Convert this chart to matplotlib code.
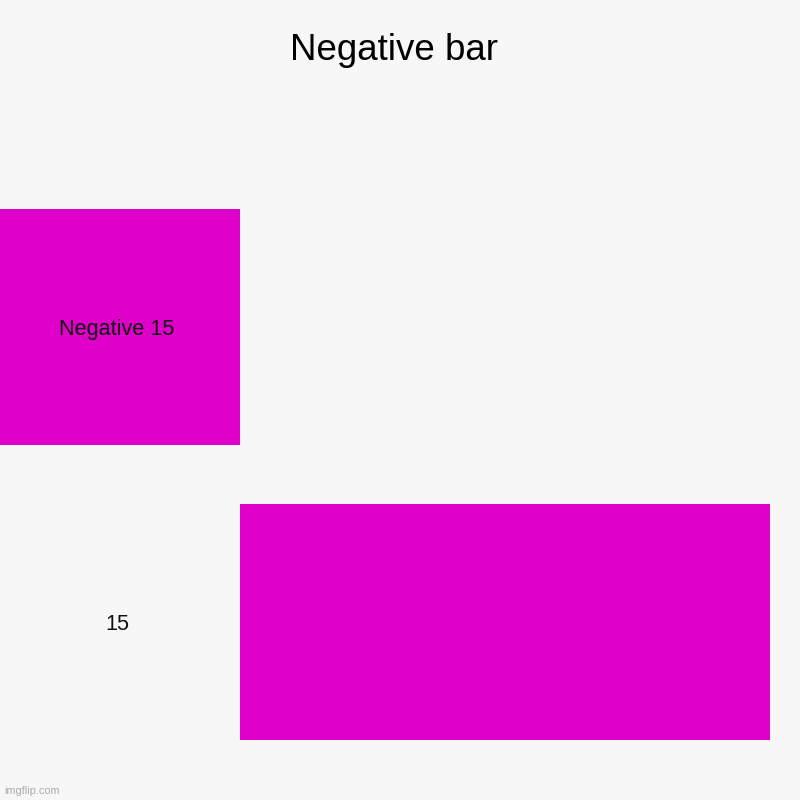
import matplotlib.pyplot as plt
from matplotlib import transforms

categories = ['Negative 15', '15']
values = [-15, 15]
title = 'Negative bar'

bg = '#f7f7f7'
bar_color = '#df00c9'

plt.rcParams['font.family'] = ['Liberation Sans', 'DejaVu Sans']

fig = plt.figure(figsize=(8, 8), dpi=100, facecolor=bg)
# plot area: zero line at x=240px, right end at 770px; bars from y=209 to 740px
ax = fig.add_axes([0, 1 - 740 / 800, 770 / 800, 531 / 800])
ax.set_facecolor(bg)
ax.patch.set_alpha(0)

pos = list(range(len(categories)))
ax.barh(pos, values, height=0.8, color=bar_color)
vmax = max(abs(v) for v in values)
ax.set_xlim(-vmax * 240 / 530, vmax)
ax.set_ylim(len(categories) - 0.6, -0.4)
ax.axis('off')

# category labels sit in the left strip, centred at x=117px
trans = transforms.blended_transform_factory(fig.transFigure, ax.transData)
for p, c in zip(pos, categories):
    ax.text(117 / 800, p, c, transform=trans, ha='center', va='center_baseline',
            fontsize=15.6, color='#111111')

fig.text(393.5 / 800, 1 - 60 / 800, title, ha='center', va='baseline',
         fontsize=26.5, color='black')
fig.text(4 / 800, 1 - 794 / 800, 'imgflip.com', ha='left', va='baseline',
         fontsize=7.8, color='#aaaaaa')

fig.savefig('out.png', dpi=100, facecolor=bg)
